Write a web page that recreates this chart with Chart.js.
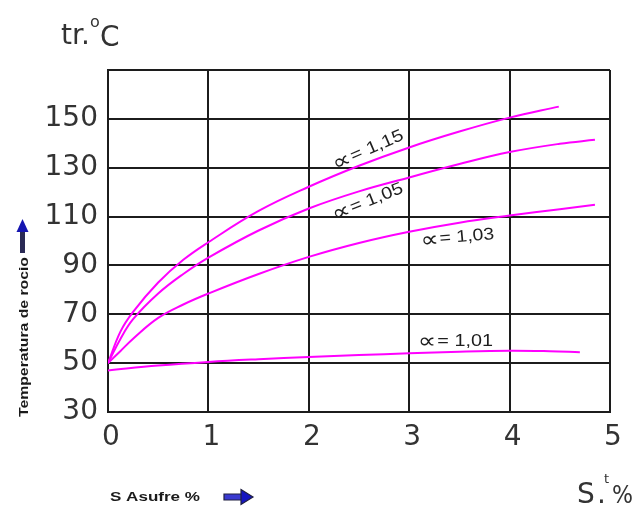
<!DOCTYPE html>
<html>
<head>
<meta charset="utf-8">
<script src="https://cdn.jsdelivr.net/npm/chart.js@4.4.1/dist/chart.umd.min.js"></script>
<style>
  html, body { margin: 0; padding: 0; background: #ffffff; }
  #wrap { width: 643px; height: 506px; position: relative; }
  canvas { display: block; }
</style>
</head>
<body>
<div id="wrap"><canvas id="c" width="643" height="506"></canvas></div>
<script>
// ---- Data ----
const xTickValues = [0, 1, 2, 3, 4, 5];
const yTickValues = [30, 50, 70, 90, 110, 130, 150];

const alpha115X = [0, 0.125, 0.25, 0.5, 0.75, 1, 1.5, 2, 2.5, 3, 3.5, 4, 4.49];
const alpha115Y = [50, 63, 71, 83, 92.3, 99.5, 112.3, 122.2, 130.8, 138.3, 144.8, 150.5, 155];

const alpha105X = [0, 0.125, 0.25, 0.5, 0.75, 1, 1.5, 2, 2.5, 3, 3.5, 4, 4.5, 4.85];
const alpha105Y = [50, 60, 68, 78.5, 86.5, 93.2, 104.3, 113.3, 120.3, 126, 131.5, 136.4, 139.8, 141.4];

const alpha103X = [0, 0.125, 0.25, 0.5, 0.75, 1, 1.5, 2, 2.5, 3, 3.5, 4, 4.5, 4.85];
const alpha103Y = [50, 55, 60, 68.5, 74, 78.5, 86.5, 93.5, 99.2, 103.8, 107.5, 110.4, 113, 114.8];

const alpha101X = [0, 0.5, 1, 1.5, 2, 2.5, 3, 3.5, 4, 4.4, 4.7];
const alpha101Y = [47, 49, 50.5, 51.6, 52.5, 53.3, 54, 54.7, 55.1, 54.9, 54.5];

const seriesSymbol = '∝';
const seriesValues = ['= 1,15', '= 1,05', '= 1,03', '= 1,01'];
const seriesNames = seriesValues.map(v => seriesSymbol + v);

// label placement (data coordinates, angle in degrees)
const labelPlacement = [
  { x: 2.59, y: 137.3, angle: -23.4, width: 76 },
  { x: 2.585, y: 116.1, angle: -21.5, width: 75 },
  { x: 3.48, y: 101.4, angle: -5.2, width: 74 },
  { x: 3.46, y: 59.0, angle: 0, width: 75 }
];

function pts(xs, ys) { return xs.map((x, i) => ({ x: x, y: ys[i] })); }

const MAGENTA = '#ff00ff';
const GRID = '#1c1c1c';
const TICKFONT = { family: 'DejaVu Sans', size: 28, weight: 'normal' };

const curveLabels = {
  id: 'curveLabels',
  afterDatasetsDraw(chart) {
    const ctx = chart.ctx;
    const xs = chart.scales.x, ys = chart.scales.y;
    ctx.save();
    ctx.fillStyle = '#1e1e1e';
    ctx.textBaseline = 'middle';
    ctx.textAlign = 'left';
    const symFont = '22px "DejaVu Sans", sans-serif';
    const txtFont = '17px "Liberation Sans", "DejaVu Sans", sans-serif';
    seriesValues.forEach((val, i) => {
      const p = labelPlacement[i];
      const px = xs.getPixelForValue(p.x);
      const py = ys.getPixelForValue(p.y);
      ctx.font = symFont;
      const sw = ctx.measureText(seriesSymbol).width;
      ctx.font = txtFont;
      const vw = ctx.measureText(val).width;
      const total = sw + 1 + vw;
      const k = p.width / total;
      ctx.save();
      ctx.translate(px, py);
      ctx.rotate(p.angle * Math.PI / 180);
      ctx.scale(k, 1);
      ctx.font = symFont;
      ctx.fillText(seriesSymbol, -total / 2, 1);
      ctx.font = txtFont;
      ctx.fillText(val, -total / 2 + sw + 1, 0);
      ctx.restore();
    });
    ctx.restore();
  }
};

const decorations = {
  id: 'decorations',
  afterDraw(chart) {
    const ctx = chart.ctx;
    ctx.save();
    ctx.fillStyle = '#333333';
    ctx.textBaseline = 'alphabetic';
    ctx.textAlign = 'left';
    // title tr.°C
    ctx.font = '28px "DejaVu Sans"';
    ctx.fillText('tr.', 61, 44);
    ctx.font = '16px "DejaVu Sans"';
    ctx.fillText('o', 90, 27);
    ctx.font = '28px "DejaVu Sans"';
    ctx.fillText('C', 100, 46);

    // S.t%
    ctx.font = '28px "DejaVu Sans"';
    ctx.fillText('S', 577, 503);
    ctx.fillText('.', 597, 503);
    ctx.font = '13px "DejaVu Sans"';
    ctx.fillText('t', 604, 483);
    ctx.font = '25px "DejaVu Sans"';
    const pw = ctx.measureText('%').width;
    ctx.save();
    ctx.translate(612, 503);
    ctx.scale(21 / pw, 1);
    ctx.fillText('%', 0, 0);
    ctx.restore();

    // y axis title rotated
    ctx.fillStyle = '#1a1a1a';
    ctx.font = 'bold 13px "Liberation Sans"';
    const yt = 'Temperatura de rocio';
    const ytw = ctx.measureText(yt).width;
    ctx.save();
    ctx.translate(28, 417);
    ctx.rotate(-Math.PI / 2);
    ctx.scale(160 / ytw, 1);
    ctx.fillText(yt, 0, 0);
    ctx.restore();

    // up arrow
    ctx.fillStyle = '#2a2a55';
    ctx.fillRect(20, 231, 5, 22);
    ctx.fillStyle = '#1515b0';
    ctx.beginPath();
    ctx.moveTo(22.5, 219);
    ctx.lineTo(28.5, 232);
    ctx.lineTo(16.5, 232);
    ctx.closePath();
    ctx.fill();

    // x axis title
    ctx.fillStyle = '#1a1a1a';
    ctx.font = 'bold 13px "Liberation Sans"';
    const xt = 'S Asufre %';
    const xtw = ctx.measureText(xt).width;
    ctx.save();
    ctx.translate(110, 501);
    ctx.scale(90 / xtw, 1);
    ctx.fillText(xt, 0, 0);
    ctx.restore();

    // right arrow
    ctx.fillStyle = '#3a3ad0';
    ctx.strokeStyle = '#202040';
    ctx.lineWidth = 1.2;
    ctx.beginPath();
    ctx.rect(224, 494, 18, 6);
    ctx.fill();
    ctx.stroke();
    ctx.fillStyle = '#1515c0';
    ctx.beginPath();
    ctx.moveTo(241, 489.5);
    ctx.lineTo(253, 497);
    ctx.lineTo(241, 504.5);
    ctx.closePath();
    ctx.fill();
    ctx.stroke();
    ctx.restore();
  }
};

const mkDataset = (label, xs, ys) => ({
  label: label,
  data: pts(xs, ys),
  borderColor: MAGENTA,
  borderWidth: 2,
  pointRadius: 0,
  fill: false,
  tension: 0.4
});

new Chart(document.getElementById('c'), {
  type: 'line',
  data: {
    datasets: [
      mkDataset(seriesNames[0], alpha115X, alpha115Y),
      mkDataset(seriesNames[1], alpha105X, alpha105Y),
      mkDataset(seriesNames[2], alpha103X, alpha103Y),
      mkDataset(seriesNames[3], alpha101X, alpha101Y)
    ]
  },
  options: {
    responsive: false,
    animation: false,
    devicePixelRatio: 1,
    layout: { padding: { top: 70, right: 33, left: 0, bottom: 0 } },
    plugins: { legend: { display: false }, tooltip: { enabled: false }, title: { display: false } },
    scales: {
      x: {
        type: 'linear',
        min: 0, max: 5,
        afterFit(s) { s.height = 94; },
        afterBuildTicks(s) { s.ticks = xTickValues.map(v => ({ value: v })); },
        grid: { color: GRID, lineWidth: 2, drawTicks: false },
        border: { color: GRID, width: 2 },
        ticks: { font: TICKFONT, color: '#333333', padding: 9, labelOffset: 3, maxRotation: 0,
                 callback: v => String(v) }
      },
      y: {
        type: 'linear',
        min: 30, max: 170,
        afterFit(s) { s.width = 108; },
        afterBuildTicks(s) { s.ticks = yTickValues.concat([170]).map(v => ({ value: v })); },
        grid: { color: GRID, lineWidth: 2, drawTicks: false },
        border: { color: GRID, width: 2 },
        ticks: { font: TICKFONT, color: '#333333', padding: 10,
                 callback: v => (yTickValues.includes(v) ? String(v) : '') }
      }
    }
  },
  plugins: [curveLabels, decorations]
});
</script>
</body>
</html>
